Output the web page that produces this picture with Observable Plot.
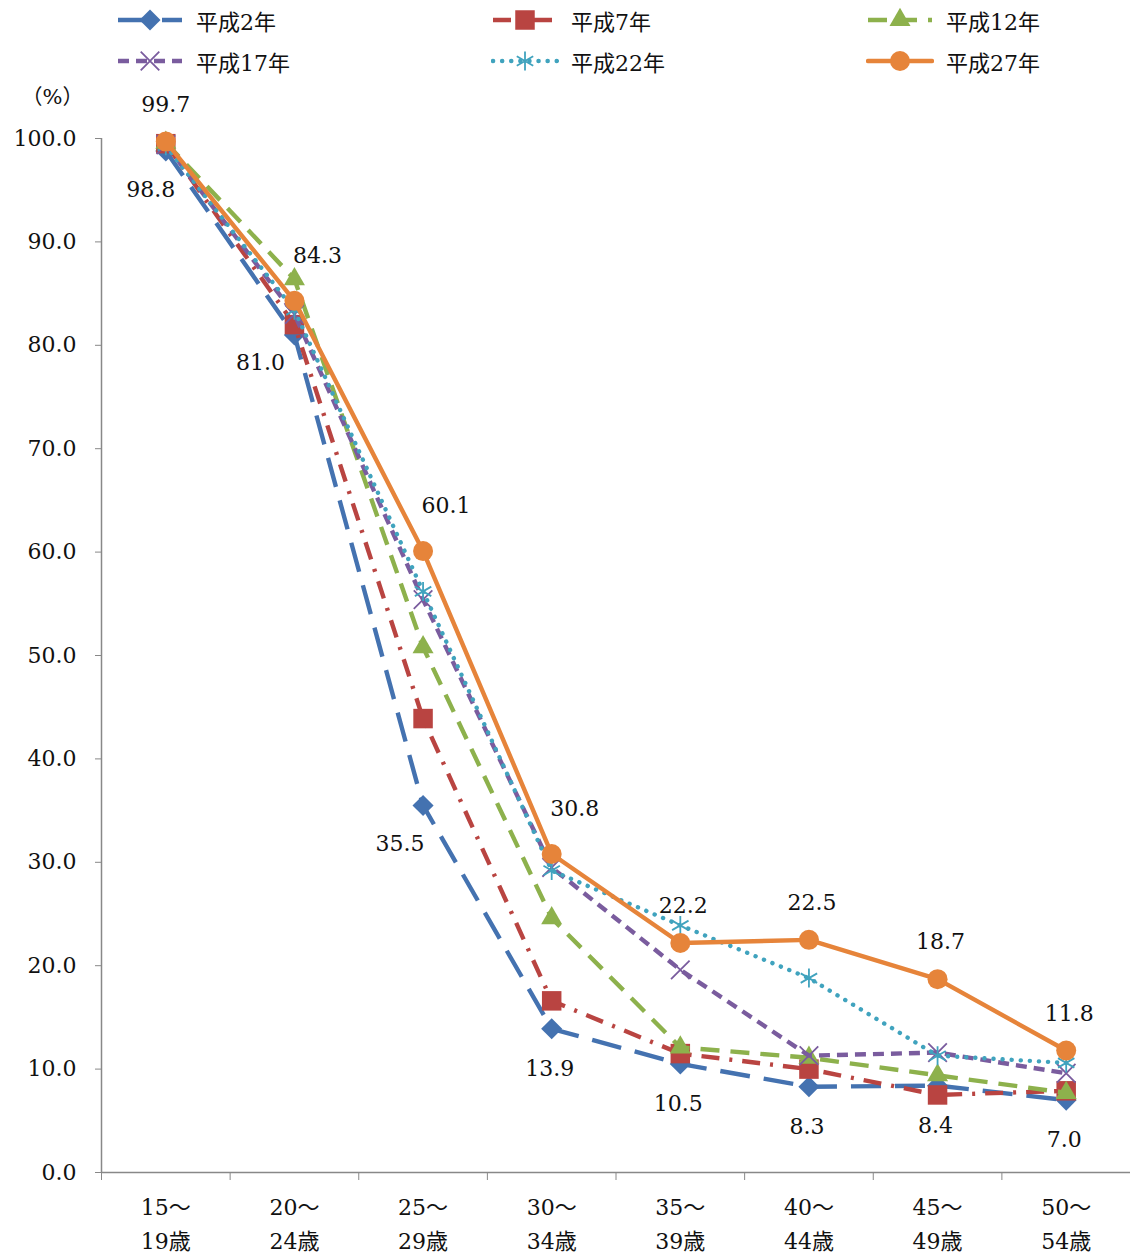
<!DOCTYPE html>
<html><head><meta charset="utf-8">
<script src="https://cdn.jsdelivr.net/npm/d3@7"></script>
<script src="https://cdn.jsdelivr.net/npm/@observablehq/plot@0.6"></script>
<style>
body{margin:0;background:#fff;font-family:"DejaVu Serif","Noto Sans CJK JP",serif;}
#legend{position:relative;width:1130px;height:85px;}
.li{position:absolute;display:flex;align-items:center;font-size:22px;color:#111;height:30px;}
.li svg{margin-right:12px;}
</style></head>
<body>
<div id="legend"></div>
<div id="chart"></div>
<script>
const ageGroups = ["15～\n19歳","20～\n24歳","25～\n29歳","30～\n34歳","35～\n39歳","40～\n44歳","45～\n49歳","50～\n54歳"];
const seriesNames = ["平成2年","平成7年","平成12年","平成17年","平成22年","平成27年"];
const h2  = [98.8, 81.0, 35.5, 13.9, 10.5, 8.3, 8.4, 7.0];
const h7  = [99.5, 82.0, 43.9, 16.6, 11.5, 10.0, 7.5, 7.9];
const h12 = [99.6, 86.4, 50.8, 24.6, 12.1, 11.1, 9.4, 7.7];
const h17 = [99.4, 83.0, 55.4, 29.5, 19.6, 11.3, 11.6, 9.6];
const h22 = [99.3, 83.4, 56.2, 29.2, 23.9, 18.8, 11.3, 10.6];
const h27 = [99.7, 84.3, 60.1, 30.8, 22.2, 22.5, 18.7, 11.8];
const yTicks = [0,10,20,30,40,50,60,70,80,90,100];

const allValues = [h2,h7,h12,h17,h22,h27];
const colors = ["#4472B0","#B94441","#8DB14C","#7A5C9E","#40A3BE","#E6843A"];
const dashes = ["30,14","18,10,3,10","19,11","11,7","0.1,9","none"];
const caps = ["butt","butt","butt","butt","round","round"];
const symbols = ["diamond2","square","triangle","times","asterisk","circle"];
const filled = [true,true,true,false,false,true];
const radii = [9.5,11,7.8,8.5,9,10];

const rows = [];
allValues.forEach((vals, s) => vals.forEach((v, i) => rows.push({s, name: seriesNames[s], i, x: i + 0.5, v})));

// Legend
const legend = document.getElementById("legend");
const lpos = [[116,5],[491,5],[866,5],[116,46],[491,46],[866,46]];
seriesNames.forEach((n, s) => {
  const d = document.createElement("div");
  d.className = "li";
  d.style.left = lpos[s][0] + "px";
  d.style.top = lpos[s][1] + "px";
  const ns = "http://www.w3.org/2000/svg";
  const svg = document.createElementNS(ns, "svg");
  svg.setAttribute("width", 68); svg.setAttribute("height", 30);
  const ln = document.createElementNS(ns, "line");
  ln.setAttribute("x1", 2); ln.setAttribute("x2", 66); ln.setAttribute("y1", 15); ln.setAttribute("y2", 15);
  ln.setAttribute("stroke", colors[s]); ln.setAttribute("stroke-width", 4.5);
  ln.setAttribute("stroke-linecap", caps[s]);
  if (dashes[s] !== "none") ln.setAttribute("stroke-dasharray", dashes[s]);
  svg.appendChild(ln);
  const g = document.createElementNS(ns, "path");
  const sym = {diamond2: d3.symbolDiamond2, square: d3.symbolSquare, triangle: d3.symbolTriangle, times: d3.symbolTimes, asterisk: d3.symbolAsterisk, circle: d3.symbolCircle}[symbols[s]];
  g.setAttribute("d", d3.symbol(sym, Math.PI * radii[s] * radii[s])());
  g.setAttribute("transform", "translate(34,15)");
  if (filled[s]) { g.setAttribute("fill", colors[s]); }
  else { g.setAttribute("fill", "none"); g.setAttribute("stroke", colors[s]); g.setAttribute("stroke-width", 1.8); }
  svg.appendChild(g);
  d.appendChild(svg);
  const t = document.createElement("span");
  t.textContent = n;
  d.appendChild(t);
  legend.appendChild(d);
});

const font = "DejaVu Serif, Noto Sans CJK JP, serif";
const marks = [
  Plot.ruleY([0], {stroke: "#888", strokeWidth: 1.5}),
  Plot.ruleX([0], {y1: 0, y2: 100, stroke: "#888", strokeWidth: 1.5}),
  Plot.axisY({ticks: yTicks, tickFormat: d3.format(".1f"), tickSize: 6, tickPadding: 19, stroke: "#888", label: null, fontSize: 22, fill: "#111"}),
  Plot.axisX({ticks: d3.range(9), tickFormat: () => "", tickSize: 8, stroke: "#888", label: null}),
  Plot.axisX({ticks: d3.range(8).map(i => i + 0.5), tickFormat: d => ageGroups[Math.floor(d)], tickSize: 0, tickPadding: 19, lineHeight: 1.52, label: null, fontSize: 22, fill: "#111"})
];
allValues.forEach((vals, s) => {
  const data = rows.filter(r => r.s === s);
  marks.push(Plot.line(data, {x: "x", y: "v", stroke: colors[s], strokeWidth: 4.4, strokeDasharray: dashes[s] === "none" ? null : dashes[s], strokeLinecap: caps[s], strokeLinejoin: "round"}));
  marks.push(Plot.dot(data, {x: "x", y: "v", symbol: symbols[s], r: radii[s],
    fill: filled[s] ? colors[s] : "none", stroke: filled[s] ? "none" : colors[s], strokeWidth: 1.8}));
});
const lab2 = rows.filter(r => r.s === 0);
const lab27 = rows.filter(r => r.s === 5);
marks.push(
  Plot.text(lab2.filter(r => r.i === 0), {x: "x", y: "v", text: d => d.v.toFixed(1), dx: -15, dy: 39, fontSize: 22, fill: "#111"}),
  Plot.text(lab2.filter(r => r.i === 1), {x: "x", y: "v", text: d => d.v.toFixed(1), dx: -34, dy: 28, fontSize: 22, fill: "#111"}),
  Plot.text(lab2.filter(r => r.i === 2), {x: "x", y: "v", text: d => d.v.toFixed(1), dx: -23, dy: 39, fontSize: 22, fill: "#111"}),
  Plot.text(lab2.filter(r => r.i >= 3), {x: "x", y: "v", text: d => d.v.toFixed(1), dx: -2, dy: 40, fontSize: 22, fill: "#111"}),
  Plot.text(lab27.filter(r => r.i === 0), {x: "x", y: "v", text: d => d.v.toFixed(1), dx: 0, dy: -37, fontSize: 22, fill: "#111"}),
  Plot.text(lab27.filter(r => r.i >= 1 && r.i <= 3), {x: "x", y: "v", text: d => d.v.toFixed(1), dx: 23, dy: -45, fontSize: 22, fill: "#111"}),
  Plot.text(lab27.filter(r => r.i >= 4), {x: "x", y: "v", text: d => d.v.toFixed(1), dx: 3, dy: -37, fontSize: 22, fill: "#111"}),
  Plot.text(["（%）"], {frameAnchor: "top-left", dx: -49, dy: -49, fontSize: 21, fill: "#111", textAnchor: "middle"})
);

const chart = Plot.plot({
  width: 1130,
  height: 1172,
  marginLeft: 101,
  marginRight: 0,
  marginTop: 53,
  marginBottom: 85,
  style: {fontFamily: font, fontSize: "22px", background: "#fff", overflow: "visible"},
  x: {type: "linear", domain: [0, 8], axis: null},
  y: {domain: [0, 100], axis: null},
  marks
});
document.getElementById("chart").appendChild(chart);
</script>
</body></html>
